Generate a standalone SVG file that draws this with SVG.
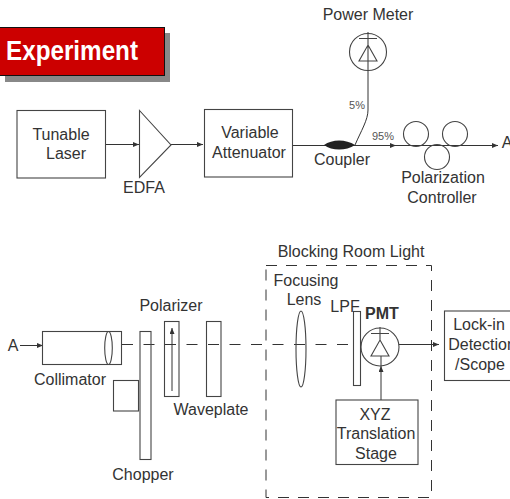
<svg xmlns="http://www.w3.org/2000/svg" width="510" height="499" viewBox="0 0 510 499">
<defs>
<marker id="ah" markerUnits="userSpaceOnUse" markerWidth="6" markerHeight="5" refX="6" refY="2.5" orient="auto"><path d="M0,0L6,2.5L0,5Z" fill="#333"/></marker>
</defs>
<style>
text{font-family:"Liberation Sans",Arial,sans-serif;font-size:16px;fill:#333;text-anchor:middle}
.s{fill:none;stroke:#444;stroke-width:1.1}
.w{fill:#fff;stroke:#444;stroke-width:1.1}
.c{fill:none;stroke:#333;stroke-width:1}
.a{marker-end:url(#ah)}
.d{fill:none;stroke:#333;stroke-width:1;stroke-dasharray:11 10.500}
.t{font-size:11px;fill:#555}
</style>
<rect width="510" height="499" fill="#fff"/>
<g id="connectors">
<path class="d" d="M122,344.500H352"/>
<path class="c a" d="M20,345.500H43"/>
<path class="c a" d="M106,144.500H139"/>
<path class="c a" d="M171,144.500H203"/>
<path class="c a" d="M292,145.500H396"/>
<path class="c" d="M396,145.500H476"/>
<path class="c a" d="M476,145.500H498"/>
<path class="c" d="M355,145C361,131 368,120 368,110V72"/>
<path class="c a" d="M399,344.500H439"/>
<path class="c a" d="M381,400V366"/>
<path class="c" d="M381,366V356"/>
</g>
<g id="experiment">
<rect x="5" y="33" width="165" height="49" fill="#888"/>
<rect x="-2" y="27.500" width="166.500" height="48" fill="#c00" stroke="#111" stroke-width="1"/>
<text x="72" y="60" textLength="132" lengthAdjust="spacingAndGlyphs" style="font-size:27px;font-weight:bold;fill:#fff">Experiment</text>
</g>
<g id="laser"><rect class="s" x="17" y="110.500" width="88.500" height="67.500"/><text x="61" y="140">Tunable</text><text x="66" y="159">Laser</text></g>
<g id="edfa"><path class="s" d="M139.500,110.500L171,145L139.500,177.500Z"/><text x="144" y="193">EDFA</text></g>
<g id="attenuator"><rect class="s" x="204.500" y="109.500" width="88" height="67.500"/><text x="250" y="138">Variable</text><text x="249" y="158">Attenuator</text></g>
<g id="coupler"><path d="M324,145C332,139 346,139 355,145C346,151 332,151 324,145Z" fill="#222"/><text x="342" y="165">Coupler</text></g>
<g id="pct"><text class="t" x="357" y="109">5%</text><text class="t" x="383" y="140">95%</text></g>
<g id="power-meter"><text x="368" y="20">Power Meter</text>
<circle class="s" cx="368" cy="52" r="18.500"/><path class="s" d="M368,32V72M359,38.500H377M368,45L377,61H359Z"/></g>
<g id="polarization-controller">
<circle class="s" cx="416" cy="134" r="12.500"/><circle class="s" cx="455" cy="134" r="12.500"/><circle class="s" cx="437" cy="157" r="12.500"/>
<text x="443" y="183">Polarization</text><text x="442" y="203">Controller</text></g>
<g id="a-out"><text x="507" y="148">A</text></g>
<g id="a-in"><text x="13" y="351">A</text></g>
<g id="collimator"><rect class="s" x="42.500" y="331.500" width="79" height="33"/><ellipse class="s" cx="108.500" cy="348" rx="3.800" ry="16.500"/><text x="70" y="385">Collimator</text></g>
<g id="chopper"><rect class="s" x="113.500" y="380.500" width="25" height="30.500"/><rect class="s" x="140" y="331.500" width="11" height="128"/><text x="143" y="480">Chopper</text></g>
<g id="polarizer"><text x="171" y="311">Polarizer</text><rect class="s" x="164.500" y="321.500" width="14.500" height="75"/><path class="c a" d="M172,391V328"/></g>
<g id="waveplate"><rect class="s" x="206.500" y="321.500" width="14.500" height="75"/><text x="211" y="415">Waveplate</text></g>
<g id="blocking"><rect x="266" y="265.500" width="165.500" height="232" fill="none" stroke="#333" stroke-width="1" stroke-dasharray="11 9"/><text x="351" y="257">Blocking Room Light</text></g>
<g id="lens"><text x="306" y="286">Focusing</text><text x="304" y="305">Lens</text><ellipse class="s" cx="301" cy="349" rx="5" ry="38"/></g>
<g id="lpf"><text x="345" y="312">LPF</text><rect class="w" x="353.500" y="311.500" width="7" height="74"/></g>
<g id="pmt"><text x="382" y="319" style="font-weight:bold">PMT</text><circle class="s" cx="380" cy="347" r="19"/><path class="s" d="M380,327V340M371,333.500H389M380,340L389,356H371Z"/></g>
<g id="xyz"><rect class="s" x="336" y="400" width="82" height="64.500"/><text x="375" y="420">XYZ</text><text x="376" y="439">Translation</text><text x="376" y="459">Stage</text></g>
<g id="lockin"><rect class="s" x="444.500" y="311" width="70" height="69.500"/><text x="479" y="330">Lock-in</text><text x="482" y="350">Detection</text><text x="480" y="370">/Scope</text></g>
</svg>
